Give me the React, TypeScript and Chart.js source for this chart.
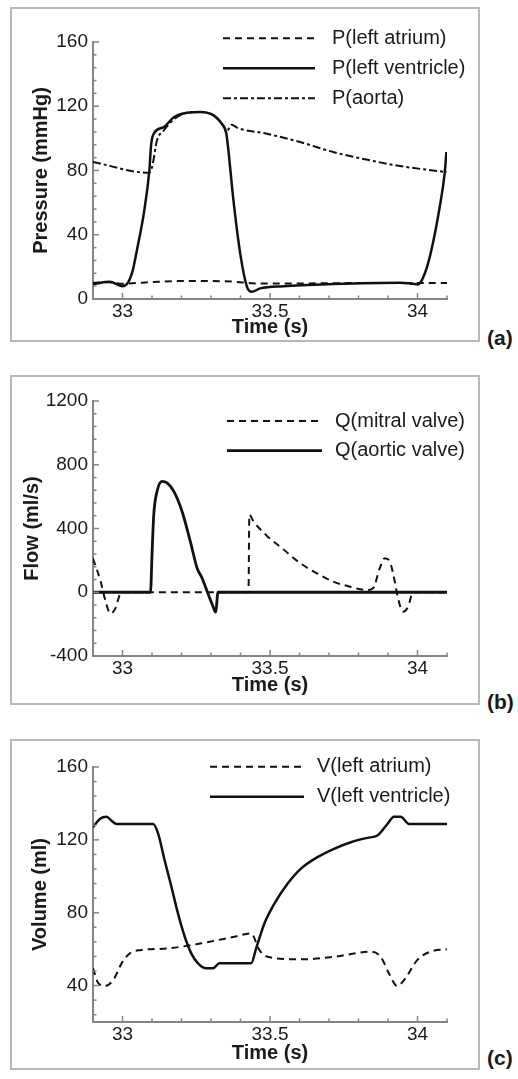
import React, { useEffect, useRef } from 'react';
import { Chart, registerables } from 'chart.js';

Chart.register(...registerables);

const FONT = '"Liberation Sans", Arial, Helvetica, sans-serif';
const LINE_COLOR = '#111111';
const AXIS_COLOR = '#858585';
const TEXT_COLOR = '#1a1a1a';

// ---------- shared axis data ----------
const X_MIN = 32.9;
const X_MAX = 34.1;
const X_TICKS = [33, 33.5, 34];

// ---------- panel (a): pressure ----------
const A_Y_TICKS = [0, 40, 80, 120, 160];
const A_LA_T = [32.9, 32.95, 33.0, 33.05, 33.1, 33.2, 33.3, 33.4, 33.45, 33.5, 33.7, 33.9, 34.0, 34.1];
const A_LA_V = [10, 10.5, 9.5, 10, 10.5, 11.2, 11.2, 10.5, 9.6, 9.6, 9.8, 10, 10, 10];
const A_LV_T = [32.9, 32.957, 32.999, 33.02, 33.035, 33.05, 33.072, 33.091, 33.097, 33.106, 33.14, 33.173, 33.219, 33.264, 33.309, 33.337, 33.352, 33.359, 33.376, 33.399, 33.422, 33.438, 33.467, 33.545, 33.714, 33.94, 33.974, 34.002, 34.025, 34.047, 34.075, 34.092, 34.098];
const A_LV_V = [9.3, 10.7, 8, 10.7, 18, 31.5, 53, 80, 96, 103, 107, 113, 116, 116.4, 114.3, 109, 103, 92.5, 61.5, 28.4, 7.6, 4.5, 6.6, 8, 9.3, 10.1, 9.7, 9.1, 16, 30.4, 57, 78, 91.5];
const A_AO_T = [32.9, 33.089, 33.1, 33.117, 33.14, 33.173, 33.219, 33.264, 33.309, 33.337, 33.355, 33.37, 33.39, 33.489, 33.602, 33.714, 33.827, 33.94, 34.098];
const A_AO_V = [85.3, 78.6, 82, 98.8, 105, 111.7, 116, 116.4, 114.3, 109, 105, 108.5, 106.5, 102.9, 97.7, 91.5, 86.8, 82.8, 79];

// ---------- panel (b): flow ----------
const B_Y_TICKS = [-400, 0, 400, 800, 1200];
const B_MV_T = [32.9, 32.926, 32.943, 32.959, 32.976, 32.993, 33.0, 33.427, 33.43, 33.444, 33.489, 33.545, 33.602, 33.658, 33.714, 33.771, 33.828, 33.85, 33.872, 33.889, 33.906, 33.923, 33.934, 33.951, 33.968, 33.985, 34.1];
const B_MV_V = [212, 67, -59, -133, -101, -6, 0, 0, 487, 445, 355, 270, 183, 120, 67, 35, 14, 27, 151, 214, 193, 67, -38, -122, -91, 0, 0];
const B_AV_T = [32.9, 33.095, 33.1, 33.106, 33.117, 33.134, 33.151, 33.174, 33.202, 33.23, 33.253, 33.27, 33.288, 33.305, 33.316, 33.32, 33.323, 34.1];
const B_AV_V = [0, 0, 235, 487, 632, 696, 686, 633, 507, 318, 151, 88, 0, -80, -125, -60, 0, 0];

// ---------- panel (c): volume ----------
const C_Y_TICKS = [40, 80, 120, 160];
const C_LA_T = [32.9, 32.918, 32.94, 32.969, 32.997, 33.025, 33.064, 33.154, 33.267, 33.379, 33.436, 33.464, 33.492, 33.605, 33.717, 33.841, 33.875, 33.903, 33.931, 33.959, 33.999, 34.044, 34.1];
const C_LA_V = [49.5, 41.3, 39.8, 43.1, 52.2, 57.7, 59.5, 60.4, 63.2, 66.8, 68.6, 59.5, 55.8, 54.4, 55.8, 58.6, 55.8, 46.8, 39.8, 44, 54, 58.6, 59.9];
const C_LV_T = [32.9, 32.923, 32.946, 32.963, 32.98, 33.104, 33.121, 33.143, 33.166, 33.188, 33.211, 33.233, 33.256, 33.284, 33.306, 33.329, 33.436, 33.453, 33.481, 33.515, 33.56, 33.605, 33.661, 33.717, 33.774, 33.83, 33.864, 33.898, 33.92, 33.943, 33.971, 34.1];
const C_LV_V = [127, 131.5, 132.7, 130.5, 128.7, 128.7, 123.3, 108.7, 94.1, 79.6, 66.8, 57.7, 52.2, 49.5, 49.5, 52.2, 52.2, 60.4, 74.1, 85, 96, 104.2, 110.5, 115.1, 118.7, 121.1, 122.4, 128.7, 132.7, 132.7, 128.7, 128.7];

const DASH = [7, 5];
const DASH_DOT = [8, 3, 3, 3];

type Series = { label: string; t: number[]; v: number[]; dash: number[]; width: number };

type PanelCfg = {
  tag: string;
  top: number; // page y of box top
  h: number; // box height
  chartTop: number; // page y of plot top
  chartBottom: number; // page y of plot bottom
  titleX: number; // page x centre of y title
  titleY: number; // page y centre of x title
  yTitle: string;
  yMin: number;
  yMax: number;
  yTicks: number[];
  yMinorStep: number;
  series: Series[];
  legend: { x0: number; x1: number; textX: number; y0: number; gap: number };
  tagY: number;
};

const PANELS: PanelCfg[] = [
  {
    tag: '(a)', top: 7, h: 335, chartTop: 42, chartBottom: 299, titleX: 41.5, titleY: 327.5,
    yTitle: 'Pressure (mmHg)', yMin: 0, yMax: 160, yTicks: A_Y_TICKS, yMinorStep: 8,
    series: [
      { label: 'P(left atrium)', t: A_LA_T, v: A_LA_V, dash: DASH, width: 2 },
      { label: 'P(left ventricle)', t: A_LV_T, v: A_LV_V, dash: [], width: 2.5 },
      { label: 'P(aorta)', t: A_AO_T, v: A_AO_V, dash: DASH_DOT, width: 2 },
    ],
    legend: { x0: 223, x1: 315, textX: 332, y0: 38.3, gap: 30 },
    tagY: 338,
  },
  {
    tag: '(b)', top: 375, h: 330, chartTop: 401, chartBottom: 656, titleX: 32.5, titleY: 685.7,
    yTitle: 'Flow (ml/s)', yMin: -400, yMax: 1200, yTicks: B_Y_TICKS, yMinorStep: 80,
    series: [
      { label: 'Q(mitral valve)', t: B_MV_T, v: B_MV_V, dash: DASH, width: 2 },
      { label: 'Q(aortic valve)', t: B_AV_T, v: B_AV_V, dash: [], width: 2.8 },
    ],
    legend: { x0: 227, x1: 322, textX: 335, y0: 421, gap: 29.7 },
    tagY: 701.7,
  },
  {
    tag: '(c)', top: 739, h: 331, chartTop: 767, chartBottom: 1022, titleX: 40, titleY: 1053.7,
    yTitle: 'Volume (ml)', yMin: 20, yMax: 160, yTicks: C_Y_TICKS, yMinorStep: 8,
    series: [
      { label: 'V(left atrium)', t: C_LA_T, v: C_LA_V, dash: DASH, width: 2 },
      { label: 'V(left ventricle)', t: C_LV_T, v: C_LV_V, dash: [], width: 2.5 },
    ],
    legend: { x0: 210, x1: 304, textX: 317, y0: 766.7, gap: 30 },
    tagY: 1058.3,
  },
];

const BOX_LEFT = 10;
const BOX_W = 470;
const AXIS_X = 93; // page x of y axis
const PLOT_RIGHT = 447; // page x of plot right

function makeDecor(p: PanelCfg) {
  return {
    id: 'decor',
    afterDraw(chart: any) {
      const ctx: CanvasRenderingContext2D = chart.ctx;
      const xs = chart.scales.x;
      const ys = chart.scales.y;
      const ca = chart.chartArea;
      ctx.save();
      ctx.strokeStyle = AXIS_COLOR;
      ctx.lineWidth = 1.5;
      ctx.setLineDash([]);
      // x ticks (pointing up, inside)
      for (let k = 1; k <= 12; k++) {
        const v = Math.round((X_MIN + k * 0.1) * 10) / 10;
        const isMajor = X_TICKS.some((m) => Math.abs(m - v) < 1e-6);
        const px = xs.getPixelForValue(v);
        ctx.beginPath();
        ctx.moveTo(px, ca.bottom);
        ctx.lineTo(px, ca.bottom - (isMajor ? 6 : 3.5));
        ctx.stroke();
      }
      // y ticks (pointing right, inside)
      const start = Math.ceil(p.yMin / p.yMinorStep) * p.yMinorStep;
      for (let v = start; v <= p.yMax + 1e-6; v += p.yMinorStep) {
        const isMajor = p.yTicks.some((m) => Math.abs(m - v) < 1e-6);
        if (Math.abs(v - p.yMin) < 1e-6 && !isMajor) continue;
        const py = ys.getPixelForValue(v);
        ctx.beginPath();
        ctx.moveTo(ca.left, py);
        ctx.lineTo(ca.left + (isMajor ? 6 : 3.5), py);
        ctx.stroke();
      }
      // legend
      ctx.font = `20px ${FONT}`;
      ctx.textBaseline = 'middle';
      ctx.textAlign = 'left';
      p.series.forEach((s, i) => {
        const y = p.legend.y0 - p.top + i * p.legend.gap;
        ctx.setLineDash(s.dash);
        ctx.lineWidth = s.width;
        ctx.strokeStyle = LINE_COLOR;
        ctx.beginPath();
        ctx.moveTo(p.legend.x0 - BOX_LEFT, y);
        ctx.lineTo(p.legend.x1 - BOX_LEFT, y);
        ctx.stroke();
        ctx.setLineDash([]);
        ctx.fillStyle = TEXT_COLOR;
        ctx.fillText(s.label, p.legend.textX - BOX_LEFT, y);
      });
      ctx.restore();
    },
  };
}

function Panel({ p }: { p: PanelCfg }) {
  const ref = useRef<HTMLCanvasElement>(null);
  useEffect(() => {
    const padTop = p.chartTop - p.top;
    const chartBottomC = p.chartBottom - p.top;
    const titleYC = p.titleY - p.top;
    const padBottom = Math.max(0, p.h - titleYC - 12);
    const xH = p.h - padBottom - chartBottomC;
    const padLeft = p.titleX - BOX_LEFT - 12;
    const yW = AXIS_X - BOX_LEFT - padLeft;
    const padRight = BOX_LEFT + BOX_W - PLOT_RIGHT;
    const chart = new Chart(ref.current as HTMLCanvasElement, {
      type: 'line',
      data: {
        datasets: p.series.map((s) => ({
          label: s.label,
          data: s.t.map((t, i) => ({ x: t, y: s.v[i] })),
          borderColor: LINE_COLOR,
          borderWidth: s.width,
          borderDash: s.dash,
          pointRadius: 0,
          fill: false,
          cubicInterpolationMode: 'monotone' as const,
        })),
      },
      options: {
        responsive: false,
        animation: false,
        devicePixelRatio: 1,
        layout: { padding: { left: padLeft, right: padRight, top: padTop, bottom: padBottom } },
        plugins: { legend: { display: false }, tooltip: { enabled: false } },
        scales: {
          x: {
            type: 'linear',
            min: X_MIN,
            max: X_MAX,
            afterBuildTicks: (s: any) => {
              s.ticks = X_TICKS.map((value) => ({ value }));
            },
            afterFit: (s: any) => {
              s.height = xH;
            },
            ticks: {
              autoSkip: false,
              maxRotation: 0,
              padding: 1,
              color: TEXT_COLOR,
              font: { family: FONT, size: 19 },
              callback: (v: any) => String(v),
            },
            grid: { display: false, drawTicks: false },
            border: { display: true, color: AXIS_COLOR, width: 2 },
            title: {
              display: true,
              text: 'Time (s)',
              color: TEXT_COLOR,
              font: { family: FONT, size: 20, weight: 'bold' },
              padding: 0,
            },
          },
          y: {
            type: 'linear',
            min: p.yMin,
            max: p.yMax,
            afterBuildTicks: (s: any) => {
              s.ticks = p.yTicks.map((value) => ({ value }));
            },
            afterFit: (s: any) => {
              s.width = yW;
            },
            ticks: {
              autoSkip: false,
              padding: 5,
              color: TEXT_COLOR,
              font: { family: FONT, size: 19 },
              callback: (v: any) => String(v),
            },
            grid: { display: false, drawTicks: false },
            border: { display: true, color: AXIS_COLOR, width: 2 },
            title: {
              display: true,
              text: p.yTitle,
              color: TEXT_COLOR,
              font: { family: FONT, size: 20, weight: 'bold' },
              padding: 0,
            },
          },
        },
      },
      plugins: [makeDecor(p)],
    } as any);
    return () => chart.destroy();
  }, [p]);
  return (
    <>
      <div
        style={{
          position: 'absolute',
          left: BOX_LEFT,
          top: p.top,
          width: BOX_W,
          height: p.h,
          border: '2px solid #b8b8b8',
          boxSizing: 'border-box',
        }}
      />
      <canvas
        ref={ref}
        width={BOX_W}
        height={p.h}
        style={{ position: 'absolute', left: BOX_LEFT, top: p.top, width: BOX_W, height: p.h }}
      />
      <div
        style={{
          position: 'absolute',
          left: 487,
          top: p.tagY - 12,
          height: 24,
          lineHeight: '24px',
          font: `bold 21px ${FONT}`,
          color: TEXT_COLOR,
          whiteSpace: 'nowrap',
        }}
      >
        {p.tag}
      </div>
    </>
  );
}

export default function App() {
  return (
    <div
      style={{
        position: 'absolute',
        left: 0,
        top: 0,
        width: 518,
        height: 1079,
        background: '#ffffff',
        overflow: 'hidden',
      }}
    >
      {PANELS.map((p) => (
        <Panel key={p.tag} p={p} />
      ))}
    </div>
  );
}
